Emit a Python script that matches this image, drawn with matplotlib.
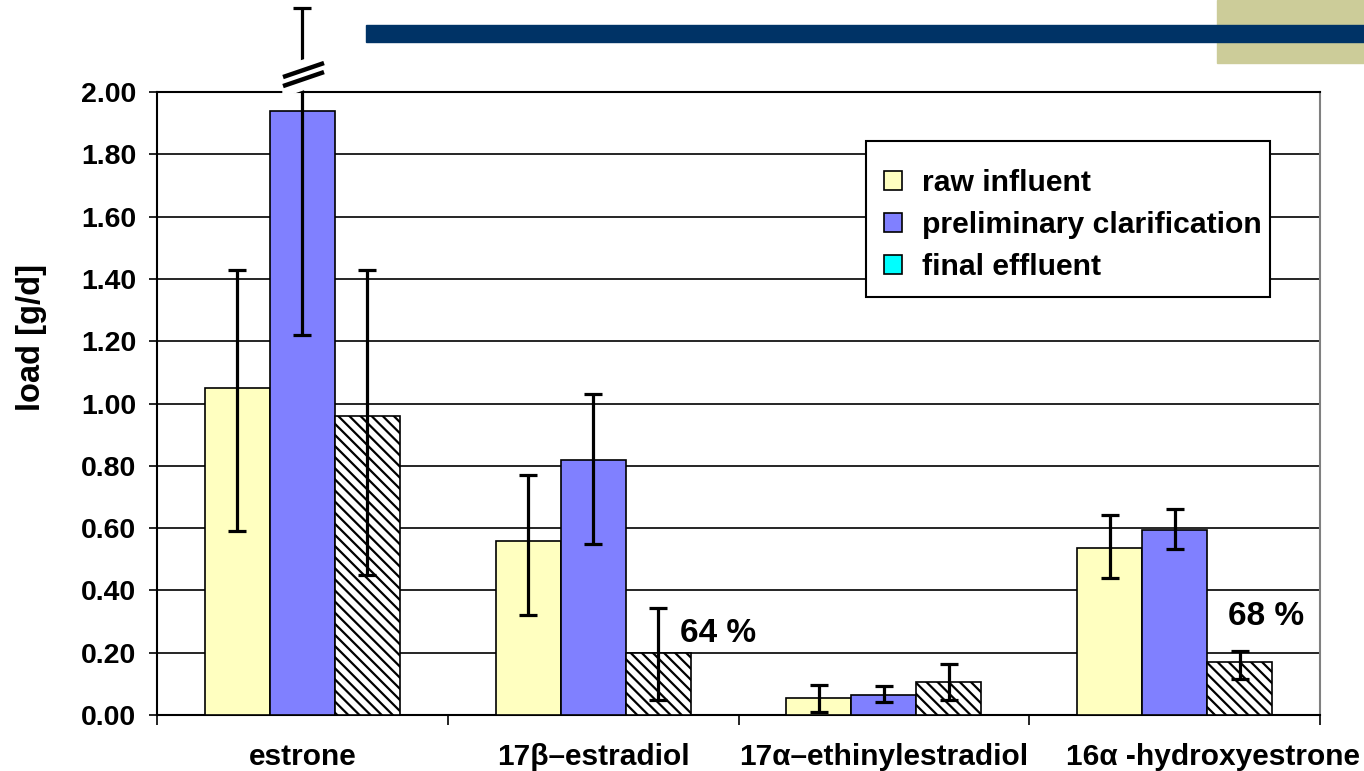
import matplotlib
matplotlib.use("Agg")
import matplotlib.pyplot as plt
import matplotlib.patches as mpatches
from matplotlib.transforms import ScaledTranslation
import numpy as np

plt.rcParams['font.family'] = ['Liberation Sans', 'DejaVu Sans']
plt.rcParams['hatch.linewidth'] = 1.6

categories = ["estrone", "17β–estradiol", "17α–ethinylestradiol", "16α -hydroxyestrone"]
series_names = ["raw influent", "preliminary clarification", "final effluent"]
raw_influent = [1.05, 0.56, 0.055, 0.535]
raw_err_low = [0.46, 0.24, 0.045, 0.095]
raw_err_high = [0.38, 0.21, 0.042, 0.107]
prelim = [1.94, 0.82, 0.065, 0.595]
prelim_err_low = [0.72, 0.27, 0.023, 0.062]
prelim_err_high = [0.33, 0.21, 0.028, 0.066]
final = [0.96, 0.20, 0.106, 0.170]
final_err_low = [0.51, 0.152, 0.058, 0.054]
final_err_high = [0.47, 0.143, 0.058, 0.035]
removal_labels = ["64 %", "68 %"]
removal_label_x = [1.4295, 3.314]
removal_label_y = [0.263, 0.315]
yticks = [0.0, 0.2, 0.4, 0.6, 0.8, 1.0, 1.2, 1.4, 1.6, 1.8, 2.0]

fig = plt.figure(figsize=(13.64, 7.71), dpi=100)
W, H = 1364, 771
ax = fig.add_axes([157 / W, 1 - 715 / H, (1320 - 157) / W, (715 - 92) / H])

# decorations
fig.patches.append(mpatches.Rectangle((1217 / W, 1 - 63 / H), (1364 - 1217) / W, 63 / H,
                                      transform=fig.transFigure, color="#CCCC99", zorder=0))
fig.patches.append(mpatches.Rectangle((366 / W, 1 - 42 / H), (1364 - 366) / W, 17 / H,
                                      transform=fig.transFigure, color="#003366", zorder=1))

x = np.arange(len(categories))
bw = 0.2236
ekw = dict(fmt="none", ecolor="black", elinewidth=2.3, capsize=6.5, capthick=2.3, zorder=5)

ax.bar(x - bw, raw_influent, bw, color="#FFFFC0", edgecolor="black", linewidth=1.2, zorder=3)
ax.bar(x, prelim, bw, color="#8080FF", edgecolor="black", linewidth=1.2, zorder=3)
ax.bar(x + bw, final, bw, color="white", edgecolor="black", linewidth=1.2, hatch="\\\\\\", zorder=3)

ax.errorbar(x - bw, raw_influent, yerr=[raw_err_low, raw_err_high], **ekw)
eb = ax.errorbar(x, prelim, yerr=[prelim_err_low, prelim_err_high], **ekw)
for art in list(eb.lines[1]) + list(eb.lines[2]):
    art.set_clip_on(False)
ax.errorbar(x + bw, final, yerr=[final_err_low, final_err_high], **ekw)

# axis break mark on the estrone error bar
x0, x1 = -0.0666, 0.0744
ax.fill([x0, x1, x1, x0], [1.985, 2.030, 2.125, 2.080], color="white", zorder=6, clip_on=False)
ax.plot([x0, x1], [2.048, 2.093], color="black", lw=3.2, zorder=7, clip_on=False, solid_capstyle="butt")
ax.plot([x0, x1], [2.019, 2.064], color="black", lw=3.2, zorder=7, clip_on=False, solid_capstyle="butt")

for txt, tx, ty in zip(removal_labels, removal_label_x, removal_label_y):
    ax.text(tx, ty, txt, ha="center", va="center", fontsize=24, fontweight="bold", zorder=8)

ax.set_xlim(-0.5, len(categories) - 0.5)
ax.set_ylim(0, 2.0)
ax.set_yticks(yticks)
ax.set_yticklabels([f"{v:.2f}" for v in yticks], fontsize=20.5, fontweight="bold")
ax.yaxis.grid(True, color="black", linewidth=1.2, zorder=0)
ax.set_axisbelow(True)
ax.tick_params(axis="y", direction="out", length=6, width=1.2, pad=9)

ax.set_xticks(x)
ax.set_xticklabels(categories, fontsize=21.5, fontweight="bold")
ax.tick_params(axis="x", which="major", length=0, pad=20)
ax.set_xticks(np.arange(-0.5, len(categories), 1.0), minor=True)
ax.tick_params(axis="x", which="minor", direction="out", length=7, width=1.2)
lbls = ax.get_xticklabels()
lbls[3].set_transform(lbls[3].get_transform() + ScaledTranslation(0.38, 0, fig.dpi_scale_trans))

fig.text(32 / W, 1 - 337 / H, "load [g/d]", rotation=90, ha="center", va="center",
         fontsize=23.5, fontweight="bold")

for s in ["left", "bottom", "top"]:
    ax.spines[s].set_color("black")
    ax.spines[s].set_linewidth(1.5)
ax.spines["right"].set_color("#808080")
ax.spines["right"].set_linewidth(1.5)

# legend: frame drawn separately
fig.patches.append(mpatches.Rectangle((866 / W, 1 - 297 / H), (1270 - 866) / W, (297 - 141) / H,
                                      transform=fig.transFigure, facecolor="white",
                                      edgecolor="black", linewidth=1.5, zorder=4))
handles = [mpatches.Patch(facecolor="#FFFFC0", edgecolor="black", linewidth=1.2),
           mpatches.Patch(facecolor="#8080FF", edgecolor="black", linewidth=1.2),
           mpatches.Patch(facecolor="#00FFFF", edgecolor="black", linewidth=1.2)]
leg = fig.legend(handles, series_names, loc="upper left", bbox_to_anchor=(884 / W, 1 - 169 / H),
                 prop={"size": 21.7, "weight": "bold"}, frameon=False,
                 handlelength=0.6, handleheight=0.6, handletextpad=0.65,
                 labelspacing=0.46, borderpad=0, borderaxespad=0)
leg.set_zorder(5)

fig.savefig("out.png", dpi=100)
